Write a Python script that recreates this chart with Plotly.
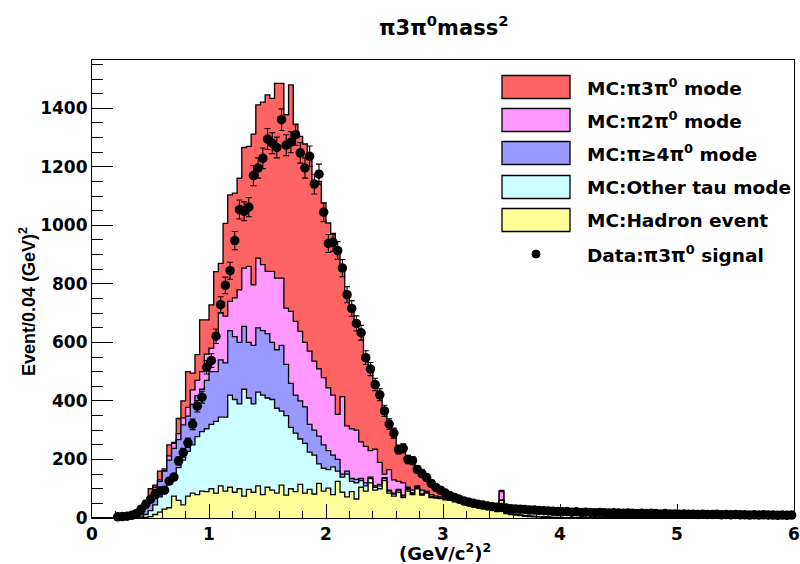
import numpy as np
import plotly.graph_objects as go

# ---------------- data (bin width 0.04 (GeV/c^2)^2, 150 bins from 0 to 6) ----------------
bin_width = 0.04
n_bins = 150

# MC components, per bin (bins 0..99, bins 100..149 empty)
mc_hadron = [0]*11 + [2, 5, 12, 20, 30, 35, 75, 60, 45,
    75, 85, 80, 92, 90, 100, 85, 110, 92, 105,
    88, 100, 75, 98, 88, 110, 80, 105, 95, 85,
    112, 78, 100, 90, 115, 85, 98, 82, 118, 92,
    102, 80, 125, 88, 72, 90, 65, 105, 92, 120,
    95, 100, 128, 85, 75, 88, 70, 92, 80, 100,
    78, 85, 70, 68, 66, 62, 60, 55, 55, 50,
    45, 40, 38, 35, 32, 28, 22, 60, 15, 12,
    10, 8, 6, 5, 4, 3, 2, 2, 1, 1] + [0]*50

mc_other_tau = [0]*8 + [1, 2,
    4, 10, 20, 33, 52, 70, 93, 75, 112, 153,
    153, 165, 198, 203, 215, 220, 245, 235, 253, 315,
    317, 290, 365, 312, 302, 320, 340, 305, 310, 290,
    253, 272, 210, 200, 155, 170, 127, 133, 67, 78,
    63, 95, 35, 52, 78, 35, 55, 23, 18, 15,
    10, 10, 7, 7, 7, 7, 5, 4, 4, 4,
    2, 2, 2, 1, 1, 1, 1, 1, 0, 0] + [0]*20 + [0]*50

mc_pi4pi0 = [0]*8 + [1, 2,
    8, 23, 35, 53, 53, 60, 70, 88, 96, 120,
    120, 138, 140, 145, 165, 180, 170, 195, 185, 220,
    215, 210, 215, 190, 200, 220, 220, 220, 195, 200,
    225, 175, 150, 130, 130, 125, 95, 85, 95, 80,
    65, 40, 40, 10, 10, 10, 12, 7, 10, 5,
    5, 5, 3, 3, 3, 3, 3, 4, 2, 2,
    2, 2, 2, 1, 1, 1, 1, 1, 1, 1,
    1, 1, 1, 1, 1, 1, 1, 1, 1, 1] + [0]*10 + [0]*50

mc_pi2pi0 = [0]*8 + [0, 1,
    2, 3, 6, 7, 5, 2, 14, 17, 20, 24,
    30, 50, 52, 60, 90, 80, 120, 160, 160, 100,
    132, 180, 199, 260, 207, 238, 226, 213, 243, 245,
    230, 192, 246, 252, 238, 220, 250, 236, 230, 230,
    215, 205, 154, 265, 155, 170, 168, 125, 125, 90,
    125, 75, 12, 70, 45, 27, 42, 5, 9, 4,
    13, 3, 6, 5, 4, 4, 3, 3, 6, 4,
    4, 3, 3, 3, 3, 2, 2, 29, 2, 1,
    2, 2, 2, 1, 1, 1, 1, 0, 1, 0] + [0]*50

mc_pi3pi0 = [0]*8 + [1, 3,
    14, 22, 34, 7, 30, 6, 38, 3, 52, 58,
    122, 57, 88, 177, 117, 148, 222, 170, 317, 364,
    358, 381, 412, 410, 515, 524, 555, 603, 591, 665,
    665, 661, 774, 672, 666, 678, 660, 603, 640, 596,
    563, 550, 561, 445, 455, 415, 365, 375, 310, 280,
    225, 235, 220, 160, 160, 115, 115, 95, 95, 55,
    55, 43, 35, 25, 18, 12, 7, 5, 1, 2,
    2, 3, 2, 2, 2, 2, 2, 4, 2, 2,
    1, 1, 1, 1, 1, 1, 1, 1, 0, 1] + [0]*50

data_signal = [0, 0, 0, 0, 0, 4, 5, 6, 9, 15,
    30, 47, 64, 80, 92, 95, 126, 140, 195, 223,
    257, 320, 382, 413, 515, 538, 621, 729, 795, 845,
    948, 1054, 1048, 1062, 1170, 1196, 1229, 1295, 1281, 1266,
    1361, 1274, 1284, 1310, 1248, 1196, 1236, 1141, 1175, 1045,
    938, 942, 914, 854, 763, 716, 665, 633, 548, 509,
    456, 421, 366, 321, 290, 234, 238, 200, 196, 166,
    152, 138, 118, 104, 95, 85, 76, 70, 64, 58,
    54, 50, 47, 44, 41, 39, 37, 36, 34, 32,
    31, 30, 29, 27, 27, 26, 25, 24, 23, 22,
    21, 22, 20, 21, 19, 20, 19, 18, 19, 18,
    17, 18, 17, 16, 17, 16, 15, 16, 15, 16,
    15, 14, 15, 14, 14, 13, 14, 13, 13, 12,
    13, 12, 12, 13, 11, 12, 11, 12, 11, 11,
    10, 11, 10, 11, 10, 10, 9, 10, 9, 10]

x_tick_vals = [0, 1, 2, 3, 4, 5, 6]
y_tick_vals = [0, 200, 400, 600, 800, 1000, 1200, 1400]

components = [
    ("MC:\u03c03\u03c0<sup>0</sup> mode", mc_pi3pi0, "#ff6464"),
    ("MC:\u03c02\u03c0<sup>0</sup> mode", mc_pi2pi0, "#ff99ff"),
    ("MC:\u03c0\u22654\u03c0<sup>0</sup> mode", mc_pi4pi0, "#9999ff"),
    ("MC:Other tau mode", mc_other_tau, "#ccffff"),
    ("MC:Hadron event", mc_hadron, "#ffff99"),
]
data_label = "Data:\u03c03\u03c0<sup>0</sup> signal"

# ---------------- figure ----------------
edges = np.round(np.arange(n_bins + 1) * bin_width, 4)
centers = edges[:-1] + bin_width / 2

# stack from bottom (hadron) to top (pi3pi0)
bottom_to_top = components[::-1]
cum = np.cumsum(np.array([c[1] for c in bottom_to_top], dtype=float), axis=0)

fig = go.Figure()
# draw the cumulative histograms, tallest first (ROOT THStack style)
for i in range(len(bottom_to_top) - 1, -1, -1):
    name, _, color = bottom_to_top[i]
    level = cum[i]
    fig.add_trace(go.Scatter(
        x=edges, y=np.append(level, level[-1]),
        mode="lines", line=dict(shape="hv", color="black", width=1.3),
        fill="tozeroy", fillcolor=color, name=name, hoverinfo="skip",
    ))

data_y = [v if v > 0 else None for v in data_signal]
fig.add_trace(go.Scatter(
    x=centers, y=data_y, mode="markers",
    marker=dict(symbol="circle", size=9.5, color="black"),
    error_y=dict(type="sqrt", color="black", thickness=1.1, width=3),
    cliponaxis=False, name=data_label,
))

L, R, T, B = 92, 6, 60, 46
W, H = 800, 564
pw, ph = W - L - R, H - T - B

def px_x(px):
    return (px - L) / pw

def px_y(py):
    return (H - B - py) / ph

tick_font = dict(family="DejaVu Sans", size=17, color="black", weight="bold")

fig.update_layout(
    width=W, height=H,
    margin=dict(l=L, r=R, t=T, b=B, autoexpand=False),
    paper_bgcolor="white", plot_bgcolor="white",
    showlegend=False,
)
fig.update_xaxes(
    range=[0, 6], tickmode="array", tickvals=x_tick_vals,
    ticktext=[str(v) for v in x_tick_vals],
    ticks="inside", ticklen=14, tickwidth=1, tickcolor="black",
    minor=dict(dtick=0.2, ticks="inside", ticklen=7, tickwidth=1, tickcolor="black"),
    showline=True, linecolor="black", linewidth=1.2, mirror=True,
    showgrid=False, zeroline=False, tickfont=tick_font,
    ticklabeloverflow="allow", automargin=False,
)
fig.update_yaxes(
    range=[0, 1565], tickmode="array", tickvals=y_tick_vals,
    ticktext=[str(v) for v in y_tick_vals],
    ticks="inside", ticklen=21, tickwidth=1, tickcolor="black",
    minor=dict(dtick=50, ticks="inside", ticklen=11, tickwidth=1, tickcolor="black"),
    showline=True, linecolor="black", linewidth=1.2, mirror=True,
    showgrid=False, zeroline=False, tickfont=tick_font, automargin=False,
)

annotations = [
    dict(text="\u03c03\u03c0<sup>0</sup>mass<sup>2</sup>", x=px_x(443), y=px_y(26),
         xref="paper", yref="paper", showarrow=False, xanchor="center", yanchor="middle",
         font=dict(family="DejaVu Sans", size=21, color="black", weight="bold")),
    dict(text="(GeV/c<sup>2</sup>)<sup>2</sup>", x=px_x(445), y=px_y(552),
         xref="paper", yref="paper", showarrow=False, xanchor="center", yanchor="middle",
         font=dict(family="DejaVu Sans", size=18, color="black", weight="bold")),
    dict(text="Event/0.04 (GeV)<sup>2</sup>", x=px_x(27), y=px_y(302),
         xref="paper", yref="paper", showarrow=False, xanchor="center", yanchor="middle",
         textangle=-90,
         font=dict(family="Liberation Sans", size=18, color="black", weight="bold")),
]

shapes = []
row_y = [87, 120, 153, 187, 220]
for (name, _, color), ry in zip(components, row_y):
    shapes.append(dict(type="rect", xref="paper", yref="paper",
                       x0=px_x(502), x1=px_x(570), y0=px_y(ry + 11.5), y1=px_y(ry - 11.5),
                       fillcolor=color, line=dict(color="black", width=1.3)))
    annotations.append(dict(text=name, x=px_x(585), y=px_y(ry), xref="paper", yref="paper",
                            showarrow=False, xanchor="left", yanchor="middle",
                            font=dict(family="DejaVu Sans", size=18.5, color="black", weight="bold")))
shapes.append(dict(type="circle", xref="paper", yref="paper",
                   x0=px_x(532), x1=px_x(540), y0=px_y(258), y1=px_y(250),
                   fillcolor="black", line=dict(color="black", width=1)))
annotations.append(dict(text=data_label, x=px_x(585), y=px_y(254), xref="paper", yref="paper",
                        showarrow=False, xanchor="left", yanchor="middle",
                        font=dict(family="DejaVu Sans", size=18.5, color="black", weight="bold")))

fig.update_layout(annotations=annotations, shapes=shapes)
fig.write_html("out.html")
